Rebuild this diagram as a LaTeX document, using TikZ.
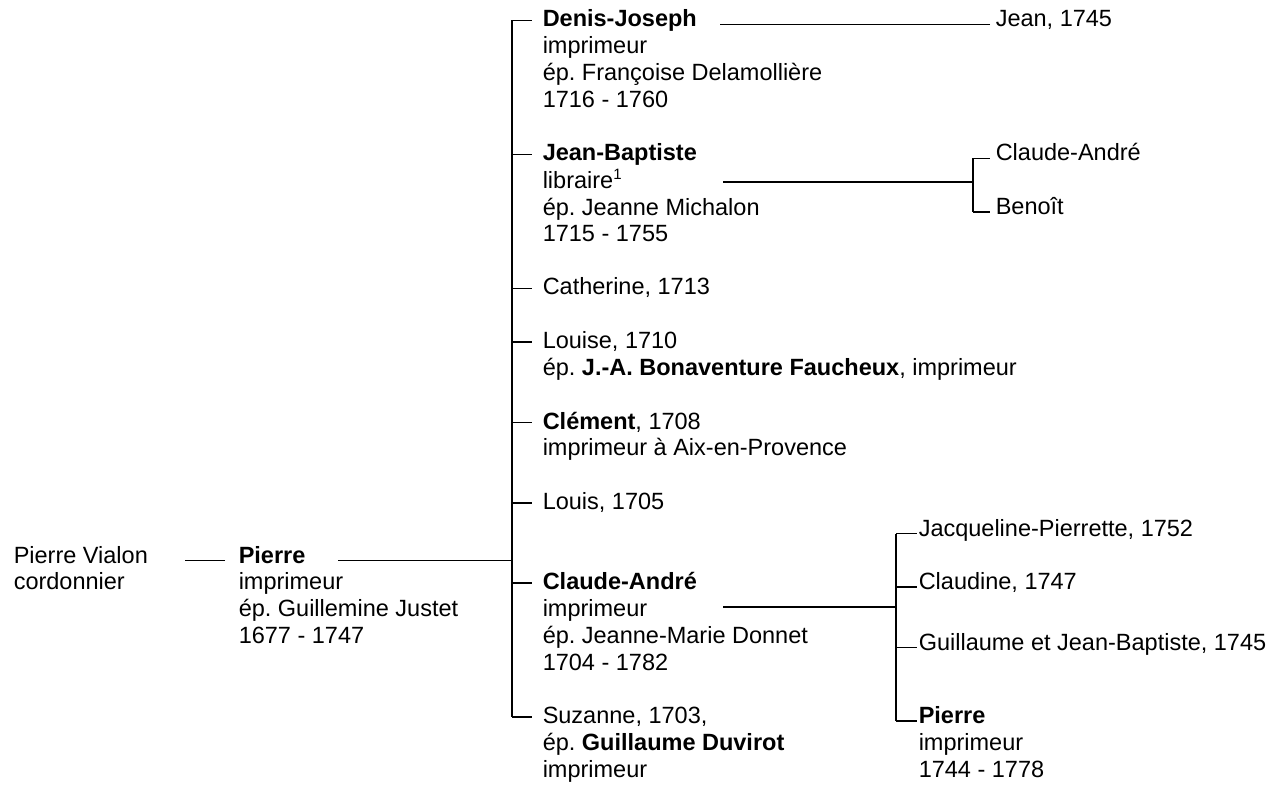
\documentclass[tikz,border=0pt]{standalone}
\usepackage{fontspec}
\setmainfont{Liberation Sans}
\frenchspacing
\newcommand{\persontext}[1]{\begin{tabular}[t]{@{}l@{}}#1\end{tabular}}
\newcommand{\noteref}[1]{\raisebox{9pt}{\fontsize{15}{15}\selectfont #1}}
\begin{document}
\begin{tikzpicture}[x=1pt,y=-1pt,line width=1.5pt,
    person/.style={anchor=base west, inner sep=0pt,
      font=\fontsize{23.5}{26.8}\selectfont}]
  \useasboundingbox (0,0) rectangle (1276,791);

  % first two generations
  \node[person] (pv) at (13,563) {\persontext{Pierre Vialon\\cordonnier}};
  \node[person] (pierre) at (238,563) {\persontext{\textbf{Pierre}\\imprimeur\\ép. Guillemine Justet\\1677 - 1747}};

  % children of Pierre
  \node[person] (dj) at (542,27) {\persontext{\textbf{Denis-Joseph}\\imprimeur\\ép. Françoise Delamollière\\1716 - 1760}};
  \node[person] (jb) at (542,161) {\persontext{\textbf{Jean-Baptiste}\\libraire\noteref{1}\\ép. Jeanne Michalon\\1715 - 1755}};
  \node[person] (cat) at (542,295) {Catherine, 1713};
  \node[person] (lou) at (542,348.6) {\persontext{Louise, 1710\\ép. \textbf{J.-A. Bonaventure Faucheux}, imprimeur}};
  \node[person] (cle) at (542,429) {\persontext{\textbf{Clément}, 1708\\imprimeur à Aix-en-Provence}};
  \node[person] (lis) at (542,509.4) {Louis, 1705};
  \node[person] (ca) at (542,589.8) {\persontext{\textbf{Claude-André}\\imprimeur\\ép. Jeanne-Marie Donnet\\1704 - 1782}};
  \node[person] (suz) at (542,723.8) {\persontext{Suzanne, 1703,\\ép. \textbf{Guillaume Duvirot}\\imprimeur}};

  % grandchildren
  \node[person] (jean) at (995,27) {Jean, 1745};
  \node[person] (jbca) at (995,161) {Claude-André};
  \node[person] (ben) at (995,214.6) {Benoît};
  \node[person] (jac) at (918,536.2) {Jacqueline-Pierrette, 1752};
  \node[person] (cld) at (918,589.8) {Claudine, 1747};
  \node[person] (gui) at (918,650) {Guillaume et Jean-Baptiste, 1745};
  \node[person] (pi) at (918,723.8) {\persontext{\textbf{Pierre}\\imprimeur\\1744 - 1778}};

  % connectors
  \coordinate (spine) at (512,0);
  \coordinate (jbfork) at (973,182);
  \coordinate (cafork) at (896,607);

  \draw ([xshift=-13pt]pierre.mid west) -- ++(-40,0);
  \draw (spine |- pierre.mid) -- ++(-174,0);
  \draw ([yshift=4pt]spine |- dj.mid) -- ([yshift=4pt]spine |- suz.mid);
  \foreach \c in {dj,jb,cat,lou,cle,lis,ca,suz}
    \draw ([yshift=4pt]spine |- \c.mid) -- ([xshift=-10pt,yshift=4pt]\c.mid west);

  \draw ([xshift=-5pt]jean.mid west) -- ++(-270,0);

  \draw (jbfork) -- ++(-250,0);
  \draw (jbfork |- jbca.mid) -- (jbfork |- ben.mid);
  \foreach \c in {jbca,ben}
    \draw (jbfork |- \c.mid) -- ([xshift=-5pt]\c.mid west);

  \draw (cafork) -- ++(-173,0);
  \draw (cafork |- jac.mid) -- (cafork |- pi.mid);
  \foreach \c in {jac,cld,gui,pi}
    \draw (cafork |- \c.mid) -- ([xshift=-1pt]\c.mid west);
\end{tikzpicture}
\end{document}
